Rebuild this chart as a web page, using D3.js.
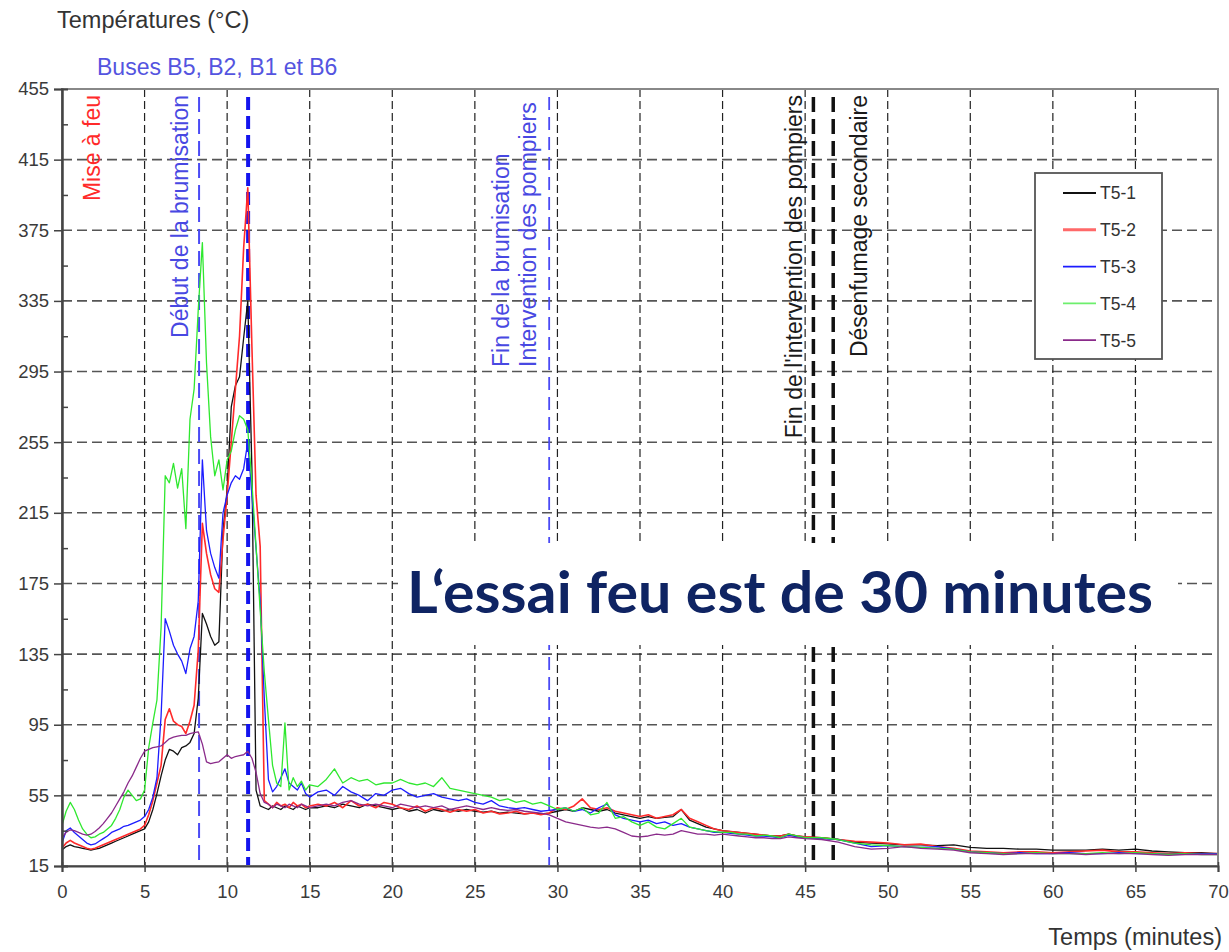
<!DOCTYPE html>
<html>
<head>
<meta charset="utf-8">
<script src="https://d3js.org/d3.v7.min.js"></script>
<style>
  body { margin: 0; background: #fff; }
  svg { display: block; font-family: "Liberation Sans", Arial, sans-serif; }
</style>
</head>
<body>
<div id="chart"></div>
<script>
var width = 1229, height = 952;

// ---- data ----
var xTicks = [0, 5, 10, 15, 20, 25, 30, 35, 40, 45, 50, 55, 60, 65, 70];
var yTicks = [15, 55, 95, 135, 175, 215, 255, 295, 335, 375, 415, 455];
var yMinorTicks = [35, 75, 115, 155, 195, 235, 275, 315, 355, 395, 435];

// sample times (minutes): 0.25 min up to 15, 0.5 min up to 45, 1 min after
var times = d3.range(0, 15.001, 0.25)
  .concat(d3.range(15.5, 45.001, 0.5))
  .concat(d3.range(46, 70.001, 1));

var seriesNames = ['T5-1', 'T5-2', 'T5-3', 'T5-4', 'T5-5'];

var t51 = [
  24, 26, 27, 26,  25.5, 25, 24.5, 24,  24.5, 25, 26, 27,  28, 29, 30, 31,
  32, 33, 34, 35,  36, 40, 47, 56,  66, 75, 81, 80,  78, 82, 83, 85,
  90, 110, 158, 152,  145, 140, 142, 205,  228, 275, 287, 292,  314, 335, 240, 58,
  49, 48, 47, 49,  48, 47, 49, 48,  47, 49, 48, 47,  48,
  48, 49, 48, 50, 49, 48, 50, 49, 48, 47,
  48, 46, 47, 45, 47, 46, 47, 46, 47, 46,
  45.5, 46, 45, 45.5, 45, 44.5, 45, 44.5, 45, 46,
  47, 46, 48, 47, 46, 47, 45, 44, 43, 42,
  43, 42, 42.5, 43, 47, 41, 39, 37, 36, 35,
  34.5, 34, 33.5, 33, 32.5, 32, 32, 33, 32, 31.5,
  31, 30, 28.5, 28, 27.5,  27, 27, 26.5, 27, 25.5,  25, 25, 24.5, 24.5, 24,
  24, 24, 24.5, 24, 24.5,  23.5, 23, 22.5, 22.5, 22
];

var t52 = [
  25, 28, 29.5, 28,  27, 26, 25, 24.5,  25, 26, 27, 28,  29, 30, 31, 32,
  33, 34, 35, 36,  38, 44, 52, 62,  72, 98, 104, 97,  95, 94, 90, 97,
  106, 137, 209, 192,  180, 172, 170, 200,  225, 255, 285, 315,  365, 399, 309, 225,
  196, 52, 50, 48,  51, 49, 50, 48,  51, 49, 50, 48,  49,
  50, 49, 51, 48, 52, 49, 50, 48, 51, 50,
  48, 47, 49, 46, 48, 47, 45.5, 47, 46, 47,
  45, 46, 44.5, 45, 46, 44.5, 45, 44, 45, 48,
  47, 49, 53, 48, 47, 48, 46, 45, 44, 43,
  44, 42, 43, 44, 47, 42, 40, 38, 36, 35,
  34.5, 34, 33.5, 33, 32.5, 32, 32, 33, 32, 31.5,
  31, 30, 29, 28.5, 28,  27, 27.5, 26, 25, 23.5,  23, 22.5, 23, 23, 22.5,
  23, 23.5, 24, 23, 23,  22.5, 22, 22.5, 22, 22
];

var t53 = [
  28, 35, 36.5, 34,  32, 30, 28, 27,  27.5, 29, 30.5, 32,  34, 35, 36, 37.5,
  38, 39, 40, 41,  43, 47, 54, 65,  100, 155, 148, 140,  135, 131, 124, 138,
  145, 165, 245, 205,  192, 184, 178, 215,  225, 232, 236, 234,  240, 255, 225, 195,
  165, 110, 64, 57,  60, 65, 70, 62,  60, 58, 62, 56,  54,
  57, 58, 55, 60, 57, 55, 52, 56, 55, 58,
  59, 56, 54, 55, 56, 54, 53, 52, 53, 51,
  50, 52, 49, 48, 47.5, 48, 47, 46, 46.5, 47,
  48, 46, 47, 45, 48, 50, 44, 42, 41, 40,
  41, 39, 40, 38, 39, 37, 36, 35, 34, 34,
  33.5, 33, 32.5, 32, 32, 31.5, 31, 32.5, 31.5, 31,
  30.5, 30, 28, 26, 26.5,  26, 25.5, 26, 24.5, 23,  22.5, 22, 22.5, 22, 22,
  22.5, 22, 22, 22.5, 22,  22, 21.5, 22, 22, 22
];

var t54 = [
  38, 46, 51, 47,  41, 36, 33, 31,  31.5, 33, 34, 36,  38, 42, 47, 54,
  58, 55, 52, 53,  58, 82, 96, 109,  150, 236, 232, 243,  229, 240, 206, 268,
  285, 330, 368, 300,  258, 236, 245, 228,  245, 250, 262, 270,  268, 262, 232, 196,
  160, 125, 98, 72,  62, 60, 96, 58,  65, 60, 63, 58,  61,
  60, 64, 70, 62, 65, 63, 64, 61, 62, 62,
  64, 62, 61, 62, 60, 65, 59, 58, 57, 56,
  55, 54, 52, 53, 51, 52, 50, 51, 49, 47,
  48, 46, 48, 44, 45, 51, 42, 43, 40, 38,
  40, 37, 36, 39, 42, 37, 36, 35, 34.5, 34,
  34, 33, 33, 32, 32.5, 32, 31, 33, 32, 31,
  31, 30, 28, 27, 26.5,  26, 25.5, 25, 24.5, 23,  22.5, 22, 22, 22.5, 22,
  22, 22, 22.5, 22, 22.5,  22, 21.5, 22, 21.5, 21.5
];

var t55 = [
  31, 34, 35.5, 35,  34, 33, 32.5, 33,  34.5, 36.5, 39, 42,  45, 49, 53, 57,
  62, 66, 71, 76,  80, 81, 82, 82.5,  83, 85, 87, 88,  88.5, 89, 89, 90,
  90.5, 91, 84, 74,  73, 73.5, 74, 76,  78, 76, 77, 77.5,  78, 80, 76, 68,
  56, 51, 50, 48,  50, 49, 48, 50,  49, 48, 50, 49,  48,
  49, 50, 49, 51, 52, 50, 49, 50, 49, 48,
  50, 49, 48, 49, 48, 49, 47, 48, 49, 48,
  47, 48, 47, 46.5, 47, 46, 45.5, 45, 44, 42,
  40, 39, 38, 37, 36.5, 37, 36, 34, 32, 31.5,
  32, 33, 32.5, 33, 35, 34, 33, 33, 32.5, 33,
  32.5, 32, 31.5, 31, 31, 30.5, 30.5, 31.5, 31, 30.5,
  30, 28.5, 26, 24.5, 25,  26, 25, 24.5, 24, 22.5,  22, 21.5, 22, 22, 22,
  22, 21.5, 22, 22, 22,  21.5, 21, 21.5, 21.5, 21.5
];

var seriesValues = [t51, t52, t53, t54, t55];

// event markers (minutes)
var eventTimes = [8.3, 11.27, 29.5, 45.5, 46.7];
var annotationTexts = ['Mise à feu', 'Début de la brumisation', 'Fin de la brumisation',
  'Intervention des pompiers', "Fin de l'intervention des pompiers", 'Désenfumage secondaire'];

// ---- styles ----
var seriesColors = ['#111111', '#ff2a2a', '#1c1cff', '#2fe82f', '#8a2a8a'];
var eventStyles = [
  { color: '#4a4af5', w: 2, dash: '15,7' },
  { color: '#1414ee', w: 4, dash: '13,6' },
  { color: '#4a4af5', w: 1.8, dash: '13,7' },
  { color: '#111', w: 3.5, dash: '15,7' },
  { color: '#111', w: 3.5, dash: '15,7' }
];
// baseline x (minutes), y anchor, anchor side, colour
var annotationStyles = [
  { t: 2.3, y: 95, anchor: 'end', color: '#ff2a2a' },
  { t: 7.63, y: 95, anchor: 'end', color: '#4848e2' },
  { t: 27.07, y: 367, anchor: 'start', color: '#4848e2' },
  { t: 28.7, y: 367, anchor: 'start', color: '#4848e2' },
  { t: 44.8, y: 95, anchor: 'end', color: '#1a1a1a' },
  { t: 48.76, y: 95, anchor: 'end', color: '#1a1a1a' }
];

var svg = d3.select('#chart').append('svg')
  .attr('width', width)
  .attr('height', height);

var x = d3.scaleLinear().domain([0, 70]).range([62, 1218]);
var y = d3.scaleLinear().domain([15, 455]).range([866, 89]);

// grid
svg.append('g').selectAll('line')
  .data(yTicks.slice(1, -1))
  .enter().append('line')
  .attr('x1', x(0)).attr('x2', x(70))
  .attr('y1', function(d) { return y(d); })
  .attr('y2', function(d) { return y(d); })
  .attr('stroke', '#555')
  .attr('stroke-width', 1.6)
  .attr('stroke-dasharray', '10,5');

svg.append('g').selectAll('line')
  .data(xTicks.slice(1, -1))
  .enter().append('line')
  .attr('x1', function(d) { return x(d); })
  .attr('x2', function(d) { return x(d); })
  .attr('y1', y(455)).attr('y2', y(15))
  .attr('stroke', '#222')
  .attr('stroke-width', 1.2)
  .attr('stroke-dasharray', '8,4');

// event lines
svg.append('g').selectAll('line')
  .data(eventTimes)
  .enter().append('line')
  .attr('x1', function(d) { return x(d); })
  .attr('x2', function(d) { return x(d); })
  .attr('y1', 97).attr('y2', y(15))
  .attr('stroke', function(d, i) { return eventStyles[i].color; })
  .attr('stroke-width', function(d, i) { return eventStyles[i].w; })
  .attr('stroke-dasharray', function(d, i) { return eventStyles[i].dash; });

// series
var line = d3.line()
  .x(function(d, i) { return x(times[i]); })
  .y(function(d) { return y(d); });

svg.append('g').selectAll('path')
  .data(seriesValues)
  .enter().append('path')
  .attr('d', function(d) { return line(d); })
  .attr('fill', 'none')
  .attr('stroke', function(d, i) { return seriesColors[i]; })
  .attr('stroke-width', function(d, i) { return i == 1 ? 1.6 : 1.3; })
  .attr('stroke-linejoin', 'round');

// frame
svg.append('rect')
  .attr('x', x(0)).attr('y', y(455))
  .attr('width', x(70) - x(0)).attr('height', y(15) - y(455))
  .attr('fill', 'none')
  .attr('stroke', '#888')
  .attr('stroke-width', 2);

// axes
var yAxis = svg.append('g')
  .attr('transform', 'translate(' + x(0) + ',0)')
  .call(d3.axisLeft(y).tickValues(yTicks).tickSize(8).tickPadding(5));
var yMinor = svg.append('g')
  .attr('transform', 'translate(' + x(0) + ',0)')
  .call(d3.axisRight(y).tickValues(yMinorTicks).tickSize(6).tickFormat(''));
var xAxis = svg.append('g')
  .attr('transform', 'translate(0,' + y(15) + ')')
  .call(d3.axisBottom(x).tickValues(xTicks).tickSize(6).tickPadding(13));

[yAxis, yMinor, xAxis].forEach(function(g) {
  g.select('.domain').attr('stroke', '#444').attr('stroke-width', 2);
  g.selectAll('.tick line').attr('stroke', '#444').attr('stroke-width', 1.5);
  g.selectAll('.tick text')
    .attr('fill', '#3a3a3a')
    .style('font-size', '18.5px')
    .style('font-family', '"Liberation Sans", Arial, sans-serif');
});
xAxis.selectAll('.tick line').attr('y1', -4);

// titles
svg.append('text')
  .attr('x', 57).attr('y', 28)
  .attr('fill', '#333')
  .style('font-size', '23.5px')
  .text('Températures (°C)');

svg.append('text')
  .attr('x', 97).attr('y', 75)
  .attr('fill', '#5454e0')
  .style('font-size', '23px')
  .text('Buses B5, B2, B1 et B6');

svg.append('text')
  .attr('x', 1222).attr('y', 945)
  .attr('text-anchor', 'end')
  .attr('fill', '#333')
  .style('font-size', '23.5px')
  .text('Temps (minutes)');

// rotated annotations
svg.append('g').selectAll('text')
  .data(annotationTexts)
  .enter().append('text')
  .attr('transform', function(d, i) {
    var a = annotationStyles[i];
    return 'translate(' + x(a.t) + ',' + a.y + ') rotate(-90)';
  })
  .attr('text-anchor', function(d, i) { return annotationStyles[i].anchor; })
  .attr('fill', function(d, i) { return annotationStyles[i].color; })
  .style('font-size', '23px')
  .text(function(d) { return d; });

// legend
var legend = svg.append('g');
legend.append('rect')
  .attr('x', 1035).attr('y', 173)
  .attr('width', 127).attr('height', 186)
  .attr('fill', '#fff')
  .attr('stroke', '#555')
  .attr('stroke-width', 1.8);
var items = legend.selectAll('g.item')
  .data(seriesNames)
  .enter().append('g')
  .attr('class', 'item')
  .attr('transform', function(d, i) { return 'translate(0,' + (193 + i * 36.8) + ')'; });
items.append('line')
  .attr('x1', 1063).attr('x2', 1096)
  .attr('stroke', function(d, i) { return seriesColors[i]; })
  .attr('stroke-width', function(d, i) { return i == 1 ? 3 : 1.8; })
  .attr('stroke-opacity', function(d, i) { return i == 1 || i == 3 ? 0.7 : 1; });
items.append('text')
  .attr('x', 1100).attr('dy', '0.36em')
  .attr('fill', '#333')
  .style('font-size', '17.5px')
  .text(function(d) { return d; });

// overlay message
svg.append('rect')
  .attr('x', 398).attr('y', 543)
  .attr('width', 780).attr('height', 102)
  .attr('fill', '#fff');

var msg = svg.append('text')
  .attr('x', 407).attr('y', 613)
  .attr('fill', '#0f2463')
  .style('font-family', 'Lato, "Open Sans", sans-serif')
  .style('font-weight', 'bold')
  .style('font-size', '58px')
  .text('L‘essai feu est de 30 minutes');
msg.attr('textLength', 746).attr('lengthAdjust', 'spacingAndGlyphs');

</script>
</body>
</html>
